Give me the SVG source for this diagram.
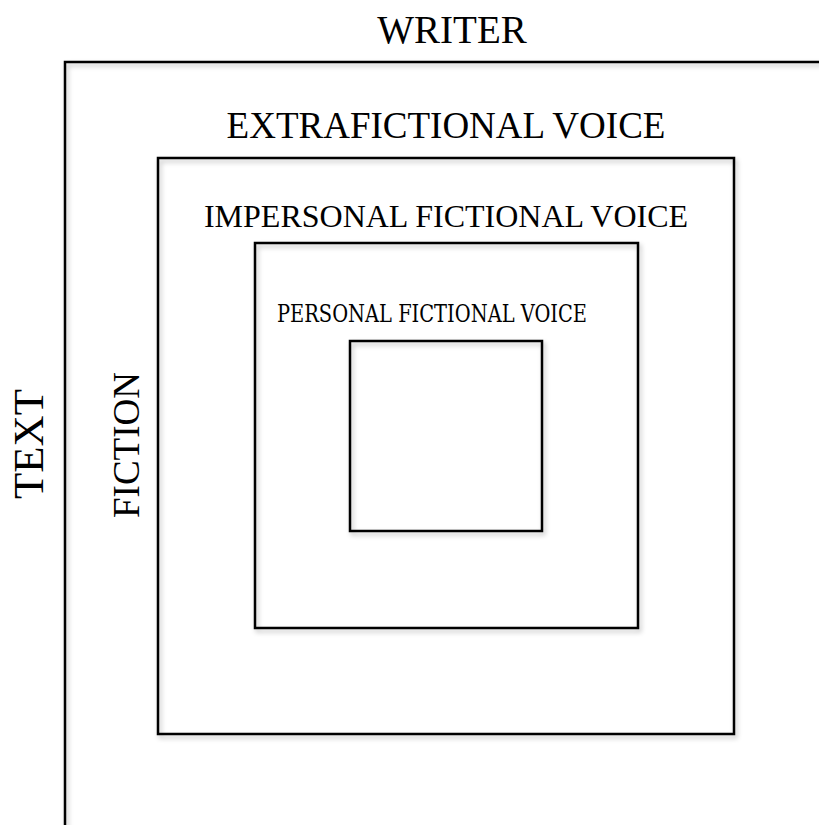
<svg xmlns="http://www.w3.org/2000/svg" width="819" height="825" viewBox="0 0 819 825">
<defs>
<filter id="sh" x="-10%" y="-10%" width="120%" height="120%">
<feGaussianBlur in="SourceAlpha" stdDeviation="2.5"/>
<feOffset dx="2" dy="3" result="b"/>
<feComponentTransfer><feFuncA type="linear" slope="0.25"/></feComponentTransfer>
<feMerge><feMergeNode/><feMergeNode in="SourceGraphic"/></feMerge>
</filter>
</defs>
<style>
.box{fill:none;stroke:#000;stroke-width:2.5;filter:url(#sh)}
.t{font-family:"Liberation Serif","Times New Roman",serif;fill:#000;text-anchor:middle}
.p{font-family:"DejaVu Serif","Liberation Serif",serif;fill:#000;text-anchor:middle}
</style>
<rect width="819" height="825" fill="#fff"/>
<g id="text-frame">
<path class="box" d="M65,830 V62 H830"/>
<text class="t" x="452" y="43" font-size="39">WRITER</text>
<text class="t" font-size="43" transform="translate(43,444) rotate(-90)">TEXT</text>
</g>
<g id="extrafictional">
<rect class="box" x="158" y="158" width="576" height="576"/>
<text class="t" x="446" y="138" font-size="37">EXTRAFICTIONAL VOICE</text>
<text class="t" font-size="37" transform="translate(139,445) rotate(-90)">FICTION</text>
</g>
<g id="impersonal">
<rect class="box" x="255" y="243" width="383" height="385"/>
<text class="t" x="446" y="227" font-size="32">IMPERSONAL FICTIONAL VOICE</text>
</g>
<g id="personal">
<rect class="box" x="350" y="341" width="192" height="190"/>
<text class="p" x="432" y="322" font-size="23.5" textLength="310" lengthAdjust="spacingAndGlyphs">PERSONAL FICTIONAL VOICE</text>
</g>
<g id="connectors"/>
</svg>
